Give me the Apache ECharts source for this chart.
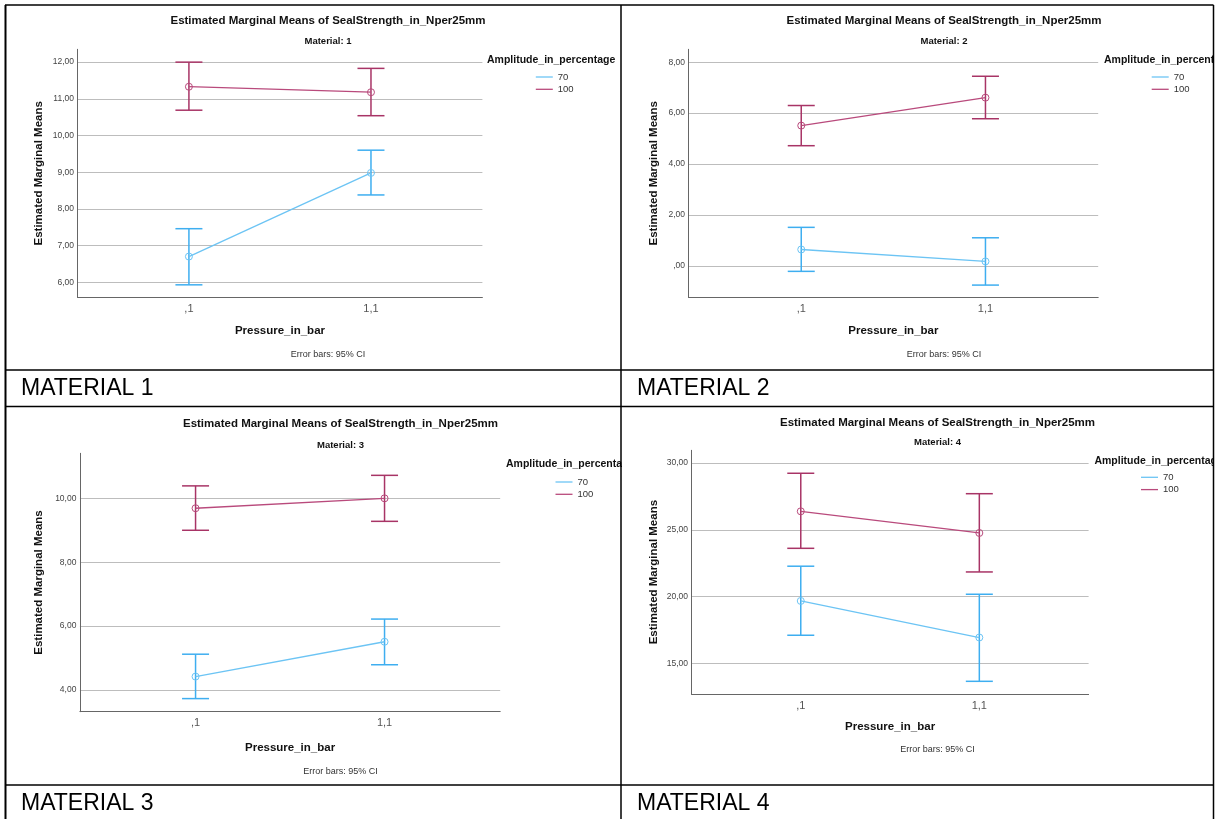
<!DOCTYPE html>
<html>
<head>
<meta charset="utf-8">
<script src="https://cdn.jsdelivr.net/npm/echarts@6/dist/echarts.min.js"></script>
<style>
html,body{margin:0;padding:0;background:#fff;}
#chart{width:1218px;height:819px;}
</style>
</head>
<body>
<div id="chart"></div>
<script>
// ---- data ----
const pressures = [',1', '1,1'];
const amplitudes = ['70', '100'];
const materials = ['1', '2', '3', '4'];

const mean70  = [[6.70, 8.98], [0.64, 0.17], [4.42, 5.51], [19.67, 16.93]];
const lo70    = [[5.93, 8.38], [-0.22, -0.76], [3.73, 4.79], [17.10, 13.65]];
const hi70    = [[7.46, 9.60], [1.51, 1.10], [5.12, 6.22], [22.27, 20.17]];
const mean100 = [[11.33, 11.18], [5.51, 6.61], [9.69, 10.00], [26.38, 24.76]];
const lo100   = [[10.69, 10.54], [4.72, 5.78], [9.00, 9.28], [23.61, 21.84]];
const hi100   = [[12.00, 11.83], [6.30, 7.45], [10.39, 10.72], [29.23, 27.70]];

const yTicks = [[6, 7, 8, 9, 10, 11, 12], [0, 2, 4, 6, 8], [4, 6, 8, 10], [15, 20, 25, 30]];
const yMin = [5.59, -1.24, 3.32, 12.70];
const yMax = [12.35, 8.51, 11.41, 30.95];

const chartTitle = 'Estimated Marginal Means of SealStrength_in_Nper25mm';
const yName = 'Estimated Marginal Means';
const xName = 'Pressure_in_bar';
const legendTitle = 'Amplitude_in_percentage';
const footNote = 'Error bars: 95% CI';
const captions = ['MATERIAL 1', 'MATERIAL 2', 'MATERIAL 3', 'MATERIAL 4'];

// ---- layout ----
const FONT = '"Liberation Sans", Arial, sans-serif';
const C70 = '#6cc4f4', C70bar = '#3eaef0';
const C100 = '#b94a7c', C100bar = '#a83466';

const panels = [
  {grid: {left: 77.5, top: 49.3, width: 404.9, height: 248}, tc: 328, ty: 21, sy: 41.7, ltx: 487, lty: 60.3, lx: 535.8, ly: 71, xg: 28, yg: 33, fy: 355},
  {grid: {left: 688.5, top: 49.3, width: 409.7, height: 248}, tc: 944, ty: 21, sy: 41.7, ltx: 1104, lty: 60.3, lx: 1151.7, ly: 71, xg: 28, yg: 29, fy: 355},
  {grid: {left: 79.9, top: 453.3, width: 420.3, height: 258.4}, tc: 340.5, ty: 424, sy: 445, ltx: 506, lty: 464.3, lx: 555.5, ly: 476, xg: 29.8, yg: 35.5, fy: 771.7},
  {grid: {left: 691.5, top: 450.3, width: 397.1, height: 243.7}, tc: 937.5, ty: 422.7, sy: 442.7, ltx: 1094.4, lty: 461, lx: 1141, ly: 471.3, xg: 27.2, yg: 32, fy: 750}
];

function fmtY(v) {
  let s = v.toFixed(2).replace('.', ',');
  if (s.startsWith('0,')) s = s.slice(1);
  return s;
}

function errRender(color) {
  return function (params, api) {
    const x = api.value(0);
    const a = api.coord([x, api.value(1)]);
    const b = api.coord([x, api.value(2)]);
    const h = 13.5;
    const st = {stroke: color, lineWidth: 1.5};
    return {
      type: 'group',
      children: [
        {type: 'line', shape: {x1: a[0], y1: a[1], x2: b[0], y2: b[1]}, style: st},
        {type: 'line', shape: {x1: a[0] - h, y1: a[1], x2: a[0] + h, y2: a[1]}, style: st},
        {type: 'line', shape: {x1: b[0] - h, y1: b[1], x2: b[0] + h, y2: b[1]}, style: st}
      ]
    };
  };
}

const grids = [], xAxes = [], yAxes = [], series = [], legends = [], graphics = [];

panels.forEach((p, i) => {
  grids.push(Object.assign({containLabel: false}, p.grid));
  xAxes.push({
    type: 'value', gridIndex: i, min: -0.612, max: 1.612,
    name: xName, nameLocation: 'middle', nameGap: p.xg,
    nameTextStyle: {fontFamily: FONT, fontSize: 11.5, fontWeight: 'bold', color: '#111'},
    axisLine: {show: true, onZero: false, lineStyle: {color: '#666', width: 1}},
    axisTick: {show: false, customValues: [0, 1]},
    axisLabel: {customValues: [0, 1], formatter: v => pressures[Math.round(v)], fontFamily: FONT, fontSize: 11, color: '#555', margin: 6},
    splitLine: {show: false}
  });
  yAxes.push({
    type: 'value', gridIndex: i, min: yMin[i], max: yMax[i],
    name: yName, nameLocation: 'middle', nameGap: p.yg,
    nameTextStyle: {fontFamily: FONT, fontSize: 11.5, fontWeight: 'bold', color: '#111'},
    axisLine: {show: true, onZero: false, lineStyle: {color: '#666', width: 1}},
    axisTick: {show: false, customValues: yTicks[i]},
    axisLabel: {customValues: yTicks[i], formatter: fmtY, fontFamily: FONT, fontSize: 8.5, color: '#444', margin: 3.5},
    splitLine: {show: true, lineStyle: {color: '#bdbdbd', width: 1}}
  });
  const d70 = pressures.map((_, k) => [k, mean70[i][k]]);
  const d100 = pressures.map((_, k) => [k, mean100[i][k]]);
  const e70 = pressures.map((_, k) => [k, lo70[i][k], hi70[i][k]]);
  const e100 = pressures.map((_, k) => [k, lo100[i][k], hi100[i][k]]);
  series.push({
    type: 'custom', name: 'CI ' + amplitudes[0], xAxisIndex: i, yAxisIndex: i,
    renderItem: errRender(C70bar), data: e70, encode: {x: 0, y: [1, 2]}, z: 2
  });
  series.push({
    type: 'custom', name: 'CI ' + amplitudes[1], xAxisIndex: i, yAxisIndex: i,
    renderItem: errRender(C100bar), data: e100, encode: {x: 0, y: [1, 2]}, z: 2
  });
  series.push({
    type: 'line', name: amplitudes[0], xAxisIndex: i, yAxisIndex: i, data: d70,
    symbol: 'circle', symbolSize: 7, color: C70,
    lineStyle: {color: C70, width: 1.3},
    itemStyle: {color: 'rgba(255,255,255,0)', borderColor: C70, borderWidth: 1}, z: 3
  });
  series.push({
    type: 'line', name: amplitudes[1], xAxisIndex: i, yAxisIndex: i, data: d100,
    symbol: 'circle', symbolSize: 7, color: C100,
    lineStyle: {color: C100, width: 1.3},
    itemStyle: {color: 'rgba(255,255,255,0)', borderColor: C100, borderWidth: 1}, z: 3
  });
  legends.push({
    data: amplitudes.map(a => ({name: a, itemStyle: {color: a === amplitudes[0] ? C70 : C100, borderWidth: 0}})),
    orient: 'vertical', left: p.lx, top: p.ly, padding: 0,
    itemWidth: 17, itemHeight: 1.3, itemGap: 0.3, icon: 'rect', selectedMode: false,
    itemStyle: {borderWidth: 0},
    textStyle: {fontFamily: FONT, fontSize: 9.5, lineHeight: 12, color: '#333'}
  });
  const txt = (x, y, text, size, weight, align, color) => ({
    type: 'text', x: x, y: y, z: 10,
    style: {text: text, fontFamily: FONT, fontSize: size, fontWeight: weight, fill: color,
      textAlign: align, align: align, textVerticalAlign: 'middle', verticalAlign: 'middle'}
  });
  graphics.push(txt(p.tc, p.ty, chartTitle, 11.5, 'bold', 'center', '#111'));
  graphics.push(txt(p.tc, p.sy, 'Material: ' + materials[i], 9.5, 'bold', 'center', '#111'));
  graphics.push(txt(p.ltx, p.lty, legendTitle, 10.5, 'bold', 'left', '#111'));
  graphics.push(txt(p.tc, p.fy, footNote, 9, 'normal', 'center', '#333'));
});

// captions
[[21, 389], [637, 389], [21, 804], [637, 804]].forEach((c, i) => {
  graphics.push({
    type: 'text', x: c[0], y: c[1], z: 30,
    style: {text: captions[i], fontFamily: FONT, fontSize: 23, fill: '#000',
      textAlign: 'left', align: 'left', textVerticalAlign: 'middle', verticalAlign: 'middle'}
  });
});

// masks (clip overflowing legend titles at cell borders)
graphics.push({type: 'rect', z: 40, shape: {x: 622, y: 52, width: 40, height: 17}, style: {fill: '#fff'}});
graphics.push({type: 'rect', z: 40, shape: {x: 622, y: 456, width: 40, height: 17}, style: {fill: '#fff'}});
graphics.push({type: 'rect', z: 40, shape: {x: 1214, y: 0, width: 10, height: 819}, style: {fill: '#fff'}});

// table borders
const B = (x1, y1, x2, y2, w) => ({type: 'line', z: 50, shape: {x1, y1, x2, y2}, style: {stroke: '#000', lineWidth: w}});
graphics.push(B(5.5, 5, 5.5, 819, 2));
graphics.push(B(5, 5, 1213.5, 5, 1.5));
graphics.push(B(1213.5, 5, 1213.5, 819, 1.5));
graphics.push(B(621, 5, 621, 819, 1.5));
graphics.push(B(5, 370, 1213.5, 370, 1.5));
graphics.push(B(5, 406.5, 1213.5, 406.5, 1.5));
graphics.push(B(5, 785, 1213.5, 785, 1.5));

const chart = echarts.init(document.getElementById('chart'), null, {renderer: 'canvas'});
chart.setOption({
  animation: false,
  backgroundColor: '#fff',
  grid: grids,
  xAxis: xAxes,
  yAxis: yAxes,
  legend: legends,
  series: series,
  graphic: {elements: graphics}
});
</script>
</body>
</html>
